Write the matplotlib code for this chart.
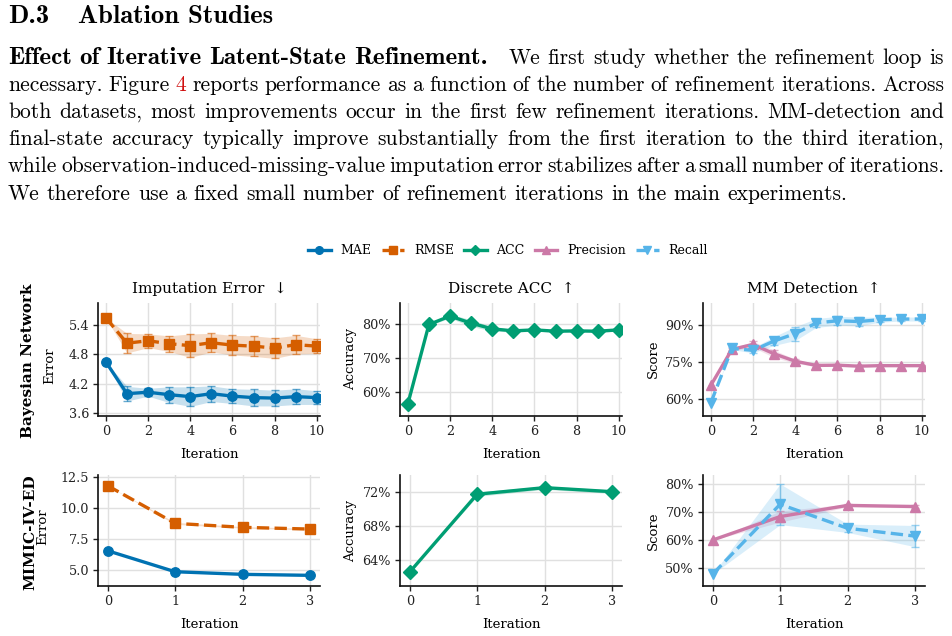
import numpy as np
import matplotlib
matplotlib.use('Agg')
import matplotlib.pyplot as plt
from matplotlib.ticker import FuncFormatter
from matplotlib.font_manager import FontProperties
from matplotlib.lines import Line2D

W, H, DPI = 952, 636, 100

# ---------------- data ----------------
bn_iter = list(range(11))
bn_mae = [4.65, 4.00, 4.03, 3.98, 3.94, 4.00, 3.95, 3.92, 3.91, 3.94, 3.92]
bn_mae_sd = [0, 0.15, 0.08, 0.16, 0.20, 0.16, 0.15, 0.17, 0.16, 0.16, 0.14]
bn_rmse = [5.55, 5.03, 5.08, 5.02, 4.98, 5.04, 4.99, 4.97, 4.93, 5.00, 4.97]
bn_rmse_sd = [0, 0.20, 0.14, 0.16, 0.24, 0.19, 0.20, 0.21, 0.21, 0.19, 0.15]
bn_acc = [56.3, 80.0, 82.5, 80.4, 78.7, 78.1, 78.4, 78.0, 78.1, 78.0, 78.4]
bn_acc_sd = [0, 0.3, 0.6, 1.0, 0.6, 0.4, 0.4, 0.3, 0.3, 0.3, 0.4]
bn_prec = [65.4, 80.0, 82.0, 78.2, 75.2, 73.5, 73.6, 73.2, 73.4, 73.4, 73.4]
bn_prec_sd = [0, 0.5, 1.2, 1.5, 0.8, 0.5, 0.4, 0.3, 0.3, 0.3, 0.3]
bn_rec = [58.3, 80.4, 79.6, 83.4, 86.4, 90.7, 91.6, 91.3, 92.0, 92.3, 92.3]
bn_rec_sd = [0, 0.5, 1.0, 1.8, 2.8, 1.8, 1.8, 1.8, 1.0, 0.8, 0.8]

mi_iter = [0, 1, 2, 3]
mi_mae = [6.53, 4.84, 4.63, 4.55]
mi_mae_sd = [0, 0.05, 0.05, 0.05]
mi_rmse = [11.77, 8.74, 8.42, 8.28]
mi_rmse_sd = [0, 0.08, 0.06, 0.06]
mi_acc = [62.6, 71.7, 72.47, 72.0]
mi_acc_sd = [0, 0.25, 0.2, 0.2]
mi_prec = [60.0, 68.4, 72.4, 72.0]
mi_prec_sd = [0, 2.0, 0.5, 0.5]
mi_rec = [47.8, 72.8, 64.2, 61.4]
mi_rec_sd = [0, 7.3, 1.5, 3.8]

series_names = ["MAE", "RMSE", "ACC", "Precision", "Recall"]
col_titles = ["Imputation Error  \u2193", "Discrete ACC  \u2191", "MM Detection  \u2191"]
row_names = ["Bayesian Network", "MIMIC-IV-ED"]

heading_num = "D.3"
heading_txt = "Ablation Studies"
para_bold = "Effect of Iterative Latent-State Refinement."
para_lines = [
    "We first study whether the refinement loop is",
    "necessary. Figure 4 reports performance as a function of the number of refinement iterations. Across",
    "both datasets, most improvements occur in the first few refinement iterations. MM-detection and",
    "final-state accuracy typically improve substantially from the first iteration to the third iteration,",
    "while observation-induced-missing-value imputation error stabilizes after a small number of iterations.",
    "We therefore use a fixed small number of refinement iterations in the main experiments.",
]

# ---------------- style ----------------
C = {"MAE": "#0072B2", "RMSE": "#D55E00", "ACC": "#009E73",
     "Precision": "#CC79A7", "Recall": "#56B4E9"}
MK = {"MAE": "o", "RMSE": "s", "ACC": "D", "Precision": "^", "Recall": "v"}
LS = {"MAE": "-", "RMSE": "--", "ACC": "-", "Precision": "-", "Recall": "--"}
MS = {"MAE": 6.8, "RMSE": 6.8, "ACC": 6.8, "Precision": 6.8, "Recall": 6.8}

plt.rcParams['font.family'] = ['DejaVu Serif', 'DejaVu Sans']
plt.rcParams['axes.linewidth'] = 1.2
plt.rcParams['xtick.major.width'] = 1.0
plt.rcParams['ytick.major.width'] = 1.0
plt.rcParams['xtick.major.size'] = 3.5
plt.rcParams['ytick.major.size'] = 3.5

fig = plt.figure(figsize=(W / DPI, H / DPI), dpi=DPI)


def fx(px):
    return px / W


def fy(py):
    return 1 - py / H


def add_ax(l, r, t, b):
    return fig.add_axes([fx(l), fy(b), (r - l) / W, (b - t) / H])


def plot_series(ax, x, m, sd, name):
    x = np.asarray(x, float)
    m = np.asarray(m, float)
    sd = np.asarray(sd, float)
    col = C[name]
    ax.fill_between(x, m - sd, m + sd, color=col, alpha=0.22, lw=0, zorder=2)
    sel = sd > 0
    ax.errorbar(x[sel], m[sel], yerr=sd[sel], fmt='none', ecolor=col,
                elinewidth=1.0, capsize=3, capthick=1.0, alpha=0.6, zorder=3)
    ax.plot(x, m, color=col, ls=LS[name], lw=2.4, marker=MK[name],
            ms=MS[name], zorder=4)


def style(ax, xlim, ylim, xticks, yticks, fmt=None):
    ax.set_xlim(*xlim)
    ax.set_ylim(*ylim)
    ax.set_xticks(xticks)
    ax.set_yticks(yticks)
    if fmt is not None:
        ax.yaxis.set_major_formatter(FuncFormatter(fmt))
    ax.grid(True, color='#e0e0e0', lw=1.0, zorder=0)
    ax.set_axisbelow(True)
    for s in ['top', 'right']:
        ax.spines[s].set_visible(False)
    ax.tick_params(labelsize=9.2, colors='#222222', pad=3)
    ax.spines['left'].set_color('#111111')
    ax.spines['bottom'].set_color('#111111')


pct = lambda v, p: f"{v:.0f}%"
f1 = lambda v, p: f"{v:.1f}"

cols = [(98, 320), (400, 622), (703, 925)]
rows = [(303, 415.5), (475, 586)]

axes = [[add_ax(c[0], c[1], r[0], r[1]) for c in cols] for r in rows]

# Row 1: Bayesian Network
a = axes[0][0]
plot_series(a, bn_iter, bn_mae, bn_mae_sd, "MAE")
plot_series(a, bn_iter, bn_rmse, bn_rmse_sd, "RMSE")
style(a, (-0.37, 10.15), (3.555, 5.85), range(0, 11, 2), [3.6, 4.2, 4.8, 5.4], f1)
a = axes[0][1]
plot_series(a, bn_iter, bn_acc, bn_acc_sd, "ACC")
style(a, (-0.37, 10.15), (52.9, 86.4), range(0, 11, 2), [60, 70, 80], pct)
a = axes[0][2]
plot_series(a, bn_iter, bn_prec, bn_prec_sd, "Precision")
plot_series(a, bn_iter, bn_rec, bn_rec_sd, "Recall")
style(a, (-0.37, 10.15), (53.2, 98.8), range(0, 11, 2), [60, 75, 90], pct)

# Row 2: MIMIC-IV-ED
a = axes[1][0]
plot_series(a, mi_iter, mi_mae, mi_mae_sd, "MAE")
plot_series(a, mi_iter, mi_rmse, mi_rmse_sd, "RMSE")
style(a, (-0.145, 3.15), (3.69, 12.64), mi_iter, [5.0, 7.5, 10.0, 12.5], f1)
a = axes[1][1]
plot_series(a, mi_iter, mi_acc, mi_acc_sd, "ACC")
style(a, (-0.145, 3.15), (60.96, 73.95), mi_iter, [64, 68, 72], pct)
a = axes[1][2]
plot_series(a, mi_iter, mi_prec, mi_prec_sd, "Precision")
plot_series(a, mi_iter, mi_rec, mi_rec_sd, "Recall")
style(a, (-0.145, 3.15), (43.5, 83.3), mi_iter, [50, 60, 70, 80], pct)

for j in range(3):
    axes[0][j].set_title(col_titles[j], fontsize=11, pad=7)
for r in range(2):
    for j in range(3):
        axes[r][j].set_xlabel("Iteration", fontsize=9.5, labelpad=7.5)
    axes[r][1].set_ylabel("Accuracy", fontsize=9.5, labelpad=4)
    axes[r][2].set_ylabel("Score", fontsize=9.5, labelpad=4)

# row labels
fig.text(fx(28), fy(361), row_names[0], rotation=90, fontsize=11,
         fontweight='bold', ha='center', va='center')
fig.text(fx(50), fy(366), "Error", rotation=90, fontsize=9.5,
         ha='center', va='center')
fig.text(fx(30), fy(532), row_names[1], rotation=90, fontsize=11,
         fontweight='bold', ha='center', va='center')
fig.text(fx(43), fy(527), "Error", rotation=90, fontsize=9.5,
         ha='center', va='center')

# legend
handles = [Line2D([], [], color=C[n], ls=LS[n], lw=2.4, marker=MK[n], ms=5.5)
           for n in series_names]
fig.legend(handles, series_names, loc='center', bbox_to_anchor=(fx(508), fy(251)),
           ncol=5, frameon=False, fontsize=9, handlelength=1.8,
           handletextpad=0.8, columnspacing=0.8)

# ---------------- paper text ----------------
renderer = fig.canvas.get_renderer()


def tw(s, fp):
    w, h, d = renderer.get_text_width_height_descent(s, fp, ismath=False)
    return w


reg10 = FontProperties(family='cmr10', size=10)
body_size = 10 * 837.0 / tw(para_lines[-1], reg10)
reg = FontProperties(family='cmr10', size=body_size)
b10 = FontProperties(family='cmb10', size=10)
bold_size = 10 * 480.0 / tw(para_bold, b10)
bold = FontProperties(family='cmb10', size=bold_size)
head_size = 10 * 195.0 / tw(heading_txt, b10)
head = FontProperties(family='cmb10', size=head_size)

fig.text(fx(8), fy(22.7), heading_num, fontproperties=head, va='baseline', ha='left')
fig.text(fx(78), fy(22.7), heading_txt, fontproperties=head, va='baseline', ha='left')

X0, X1 = 8.0, 944.0
space_w = tw("a a", reg) - tw("aa", reg)
baselines = [63.5, 90.7, 117.9, 145.1, 172.3, 199.5]


def draw_words(words, yb, justify, extra=None):
    widths = [tw(t, fp) for t, fp, c in words]
    n = len(words) - 1
    extra = extra or {}
    tot_extra = sum(extra.values())
    if justify:
        gap = (X1 - X0 - sum(widths) - tot_extra) / n
    else:
        gap = space_w
    x = X0
    for i, ((t, fp, c), w) in enumerate(zip(words, widths)):
        fig.text(fx(x), fy(yb), t, fontproperties=fp, color=c,
                 va='baseline', ha='left')
        x += w + gap + extra.get(i, 0)


for k, line in enumerate(para_lines):
    words = []
    extra = {}
    if k == 0:
        bw = para_bold.split()
        words += [(w, bold, 'black') for w in bw]
        extra[len(bw) - 1] = 14
    for w in line.split():
        color = '#d01010' if (k == 1 and w == "4") else 'black'
        words.append((w, reg, color))
    draw_words(words, baselines[k], justify=(k < len(para_lines) - 1), extra=extra)

fig.savefig("out.png", dpi=DPI)
